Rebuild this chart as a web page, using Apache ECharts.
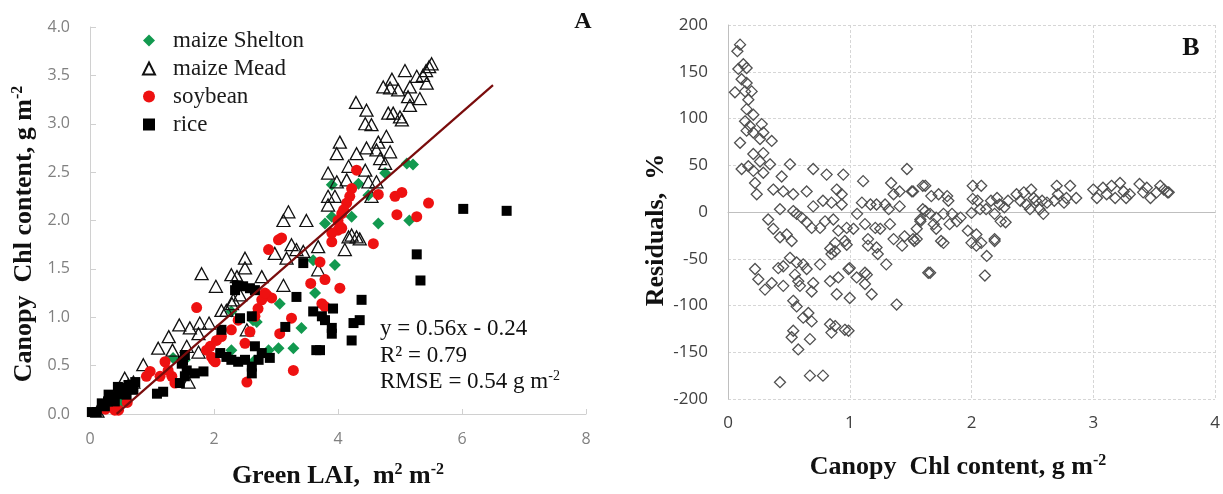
<!DOCTYPE html>
<html><head><meta charset="utf-8">
<script src="https://cdn.jsdelivr.net/npm/echarts@6/dist/echarts.min.js"></script>
<style>html,body{margin:0;padding:0;background:#fff}#c{width:1223px;height:494px}</style>
</head><body><div id="c"></div>
<script>
// ---------- Panel A data: [Green LAI, Canopy Chl] ----------
const sheltonPts = [[5.11,2.59],[5.21,2.58],[4.76,2.49],[3.90,2.37],[4.33,2.38],[4.49,2.26],[4.22,2.04],[3.90,2.04],[4.65,1.97],[5.15,2.0],[3.95,1.54],[3.63,1.25],[3.06,1.14],[3.41,0.89],[3.04,0.68],[2.88,0.66],[3.28,0.68],[2.63,0.97],[3.6,1.59],[1.34,0.58],[1.53,0.56],[2.28,1.06],[2.28,0.66],[2.65,0.55],[0.35,0.08],[0.5,0.12],[2.69,0.95],[3.79,1.97]];
const meadPts = [[5.08,3.55],[5.51,3.62],[5.47,3.59],[5.42,3.55],[5.37,3.50],[5.27,3.49],[4.87,3.46],[4.73,3.38],[4.84,3.37],[4.97,3.35],[5.16,3.38],[5.43,3.42],[5.32,3.26],[5.13,3.28],[5.16,3.19],[5.03,3.04],[5.0,3.07],[4.81,3.11],[4.89,3.11],[4.29,3.22],[4.46,3.14],[4.44,3.0],[4.54,2.99],[4.78,2.87],[4.65,2.81],[4.84,2.71],[4.62,2.73],[4.68,2.64],[4.76,2.59],[4.46,2.75],[4.30,2.69],[4.03,2.81],[3.98,2.69],[4.17,2.56],[4.44,2.52],[4.49,2.40],[3.84,2.49],[3.98,2.40],[4.14,2.42],[4.62,2.40],[3.84,2.25],[3.95,2.25],[3.84,2.16],[3.20,2.09],[3.12,2.0],[3.49,2.0],[4.54,2.25],[4.22,1.85],[4.30,1.83],[4.35,1.81],[4.17,1.83],[4.11,1.70],[1.80,1.45],[2.03,1.32],[2.28,1.44],[2.12,1.07],[2.29,1.14],[1.44,0.92],[1.61,0.89],[1.77,0.94],[1.92,0.94],[1.75,0.83],[1.27,0.80],[1.10,0.68],[1.33,0.66],[1.56,0.70],[1.75,0.64],[0.86,0.51],[0.56,0.37],[1.59,0.33],[2.50,1.61],[2.50,1.51],[2.37,1.42],[2.77,1.42],[3.12,1.33],[2.42,1.23],[2.31,1.18],[2.20,1.07],[2.53,0.87],[2.98,1.66],[3.17,1.61],[3.25,1.75],[3.33,1.70],[3.44,1.68],[3.68,1.49],[3.68,1.73],[0.12,0.03],[0.3,0.12],[0.45,0.22],[0.62,0.30],[0.7,0.33]];
const soyPts = [[4.30,2.52],[4.22,2.33],[4.19,2.25],[4.14,2.18],[4.09,2.11],[4.06,2.07],[4.0,2.0],[4.65,2.27],[4.92,2.25],[5.03,2.29],[5.46,2.18],[4.95,2.06],[5.27,2.04],[4.03,1.94],[3.04,1.80],[3.09,1.82],[2.88,1.70],[3.90,1.78],[4.0,1.90],[4.06,1.92],[4.57,1.76],[3.9,1.87],[3.71,1.57],[3.56,1.35],[3.79,1.39],[4.03,1.30],[2.85,1.23],[2.93,1.20],[2.77,1.18],[2.71,1.09],[2.66,1.01],[3.74,1.14],[3.79,1.11],[3.25,0.99],[3.06,0.83],[2.58,0.85],[2.5,0.73],[3.28,0.45],[2.53,0.33],[2.28,0.87],[2.39,0.97],[1.72,1.10],[0.97,0.44],[1.32,0.39],[1.13,0.39],[0.91,0.39],[1.21,0.54],[1.26,0.45],[1.94,0.70],[2.04,0.76],[2.12,0.80],[1.96,0.59],[1.88,0.66],[1.37,0.32],[0.46,0.04],[0.40,0.04],[2.02,0.54],[1.99,0.56],[0.25,0.05],[0.6,0.12],[2.82,1.25]];
const ricePts = [[6.02,2.12],[6.72,2.10],[5.27,1.65],[5.33,1.38],[3.44,1.56],[2.34,1.28],[2.47,1.32],[2.58,1.30],[2.66,1.28],[3.33,1.21],[4.38,1.18],[3.6,1.06],[3.74,1.01],[3.92,1.09],[3.79,0.97],[3.90,0.89],[3.90,0.83],[4.35,0.97],[4.25,0.94],[4.22,0.76],[3.71,0.66],[3.15,0.90],[2.42,0.99],[2.61,1.01],[2.66,0.70],[2.77,0.63],[2.90,0.58],[2.72,0.56],[2.61,0.49],[2.61,0.42],[2.50,0.56],[2.39,0.54],[2.28,0.56],[2.20,0.59],[1.53,0.61],[1.48,0.52],[1.56,0.45],[1.45,0.32],[1.53,0.39],[1.69,0.42],[1.83,0.44],[2.12,0.87],[2.1,0.63],[2.37,1.33],[1.08,0.21],[1.18,0.23],[0.73,0.33],[0.62,0.30],[0.51,0.27],[0.46,0.21],[0.35,0.18],[0.29,0.13],[0.19,0.11],[0.11,0.02],[0.03,0.02],[0.59,0.20],[0.70,0.25],[0.40,0.13],[0.24,0.08],[3.65,0.66],[1.5,0.55],[0.3,0.2],[0.45,0.28]];
const fitSlope = 0.56, fitIntercept = -0.24;
const fitX = [0.43, 6.5];
const ticksAx = [0, 2, 4, 6, 8];
const ticksAy = [0.0, 0.5, 1.0, 1.5, 2.0, 2.5, 3.0, 3.5, 4.0];
// ---------- Panel B data: [Canopy Chl, Residual %] ----------
const residPts = [[0.099,179],[0.077,172],[0.085,153],[0.126,158],[0.153,154],[0.057,128],[0.112,142],[0.153,138],[0.194,129],[0.167,120],[0.14,129],[0.153,110],[0.208,104],[0.14,97],[0.18,92],[0.153,87],[0.208,85],[0.277,94],[0.29,85],[0.263,78],[0.359,76],[0.099,74],[0.208,62],[0.29,63],[0.263,54],[0.345,51],[0.112,46],[0.167,49],[0.208,44],[0.29,42],[0.222,31],[0.236,19],[0.372,24],[0.454,22],[0.509,51],[0.441,38],[0.536,19],[0.427,3],[0.536,1],[0.646,22],[0.70,46],[0.81,40],[0.947,40],[0.893,24],[0.934,19],[0.78,12],[0.70,6],[0.85,10],[0.934,8],[1.11,33],[1.10,10],[1.17,8],[1.22,8],[1.29,8],[1.34,31],[1.36,19],[1.41,22],[1.47,46],[1.51,22],[1.60,28],[1.32,3],[1.41,6],
[0.33,-8],[0.372,-18],[0.427,-27],[0.482,-24],[0.523,-31],[0.564,-2],[0.605,-6],[0.646,-11],[0.687,-17],[0.756,-17],[0.797,-10],[0.865,-8],[0.906,-20],[0.975,-17],[1.03,-18],[1.06,-2],[1.125,-13],[1.21,-17],[1.25,-18],[1.33,-13],[1.15,-29],[1.22,-38],[1.36,-29],[1.45,-26],[1.55,-29],[1.58,-8],[1.62,1],[0.88,-33],[0.96,-31],[0.84,-39],
[0.222,-61],[0.249,-72],[0.304,-83],[0.359,-76],[0.413,-60],[0.454,-79],[0.454,-58],[0.509,-49],[0.55,-67],[0.564,-54],[0.618,-56],[0.577,-74],[0.591,-79],[0.646,-61],[0.70,-76],[0.687,-85],[0.756,-56],[0.536,-95],[0.564,-101],[0.618,-113],[0.66,-108],[0.687,-117],[0.536,-127],[0.523,-134],[0.577,-147],[0.673,-136],[0.838,-74],[0.893,-88],[0.906,-70],[0.85,-45],[0.879,-42],[0.975,-35],[1.0,-60],[0.99,-61],[1.057,-70],[1.0,-92],[1.125,-65],[1.14,-67],[1.125,-77],[1.18,-88],[1.15,-36],[1.23,-45],[1.30,-56],[1.385,-99],[1.43,-36],[1.53,-31],[1.645,-65],[0.838,-120],[0.88,-122],[0.96,-126],[0.99,-127],[0.85,-129],[0.673,-175],[0.78,-175],[0.427,-182],
[1.52,22],[1.62,28],[1.67,17],[1.73,19],[1.80,17],[1.81,12],[1.60,3],[1.66,-2],[1.58,-10],[1.71,-6],[1.77,-2],[1.84,-2],[1.91,-6],[1.55,-18],[1.52,-29],[1.71,-18],[1.75,-31],[1.69,-13],[1.82,-13],[1.88,-10],
[2.01,28],[2.08,28],[2.01,14],[2.05,12],[2.0,-1],[2.07,3],[2.12,3],[2.16,12],[2.21,15],[2.19,-2],[2.23,8],[2.27,5],[2.30,12],[2.24,-10],[2.28,-11],[1.97,-20],[2.04,-24],[2.08,-33],[2.19,-29],
[2.37,19],[2.43,21],[2.49,24],[2.51,15],[2.53,12],[2.58,12],[2.40,12],[2.45,8],[2.48,3],[2.56,3],[2.62,10],[2.59,-2],[2.70,28],[2.71,19],[2.78,15],[2.81,28],[2.86,15],[2.68,12],[2.76,10],
[3.0,24],[3.03,15],[3.08,26],[3.11,19],[3.15,28],[3.18,15],[3.22,31],[3.25,22],[3.3,19],[3.27,15],[3.38,30],[3.41,21],[3.44,26],[3.47,15],[3.52,21],[3.55,28],[3.58,24],[3.61,21],[3.62,21],
[1.66,-65],[2.11,-68],[2.125,-47],[2.04,-36],[2.0,-33],[2.19,-31],[1.77,-33]];
const ticksBx = [0, 1, 2, 3, 4];
const ticksBy = [-200, -150, -100, -50, 0, 50, 100, 150, 200];
const seriesNames = ['maize Shelton', 'maize Mead', 'soybean', 'rice'];

const fitLine = fitX.map(x => [x, fitSlope * x + fitIntercept]);
const serif = 'Liberation Serif';
const sans = 'Open Sans';
const chart = echarts.init(document.getElementById('c'), null, {renderer: 'canvas'});

function rt(size, weight) {
  return {
    t: {fontFamily: serif, fontSize: size, fontWeight: weight, fill: '#111', color: '#111', lineHeight: size + 2},
    s: {fontFamily: serif, fontSize: Math.round(size * 0.62), fontWeight: weight, fill: '#111', color: '#111', verticalAlign: 'top', lineHeight: size * 0.5}
  };
}
function gtext(x, y, text, size, weight, rot, align) {
  return {
    type: 'text', x: x, y: y, rotation: rot || 0, z: 100,
    style: {
      text: text, rich: rt(size, weight),
      font: weight + ' ' + size + 'px "' + serif + '"',
      fill: '#111',
      align: align || 'center', textAlign: align || 'center',
      verticalAlign: 'middle', textVerticalAlign: 'middle'
    }
  };
}

const axisLineA = {show: true, lineStyle: {color: '#d0d0d0', width: 1}};
const option = {
  animation: false,
  backgroundColor: '#fff',
  grid: [
    {left: 90, top: 27, width: 496, height: 387},
    {left: 728, top: 25, width: 487, height: 374}
  ],
  xAxis: [
    {gridIndex: 0, type: 'value', min: 0, max: 8, interval: 2,
     axisLine: axisLineA, axisTick: {show: true, inside: true, length: 5, lineStyle: {color: '#d0d0d0'}},
     splitLine: {show: false},
     axisLabel: {color: '#808080', fontFamily: sans, fontSize: 16, margin: 17,
       formatter: v => ticksAx.includes(v) ? String(v) : ''}},
    {gridIndex: 1, type: 'value', min: 0, max: 4, interval: 1,
     axisLine: {show: true, lineStyle: {color: '#bfbfbf', width: 1}}, axisTick: {show: false},
     splitLine: {show: true, lineStyle: {color: '#d6d6d6', type: [3, 2], width: 1}},
     axisLabel: {color: '#404040', fontFamily: sans, fontSize: 17, margin: 16,
       formatter: v => ticksBx.includes(v) ? String(v) : ''}}
  ],
  yAxis: [
    {gridIndex: 0, type: 'value', min: 0, max: 4, interval: 0.5,
     axisLine: axisLineA, axisTick: {show: true, inside: true, length: 6, lineStyle: {color: '#d0d0d0'}},
     splitLine: {show: false},
     axisLabel: {color: '#808080', fontFamily: sans, fontSize: 16, margin: 20,
       formatter: v => ticksAy.some(t => Math.abs(t - v) < 1e-9) ? v.toFixed(1) : ''}},
    {gridIndex: 1, type: 'value', min: -200, max: 200, interval: 50,
     axisLine: {show: true, lineStyle: {color: '#bfbfbf', width: 1}}, axisTick: {show: false},
     splitLine: {show: true, lineStyle: {color: '#d6d6d6', type: [3, 2], width: 1}},
     axisLabel: {color: '#404040', fontFamily: sans, fontSize: 17, margin: 20,
       formatter: v => ticksBy.includes(v) ? String(v) : ''}}
  ],
  legend: {
    orient: 'vertical', left: 137, top: 24, itemWidth: 12, itemHeight: 12, itemGap: 5,
    data: seriesNames,
    textStyle: {fontFamily: serif, fontSize: 23, color: '#1a1a1a', padding: [0, 0, 0, 13]}
  },
  series: [
    {name: seriesNames[0], type: 'scatter', xAxisIndex: 0, yAxisIndex: 0, data: sheltonPts,
     symbol: 'diamond', symbolSize: 12, itemStyle: {color: '#12994f', opacity: 1}, z: 2},
    {name: seriesNames[1], type: 'scatter', xAxisIndex: 0, yAxisIndex: 0, data: meadPts,
     symbol: 'triangle', symbolSize: [13, 12], itemStyle: {color: 'rgba(255,255,255,0)', borderColor: '#111', borderWidth: 1.3, opacity: 1}, z: 3},
    {name: seriesNames[2], type: 'scatter', xAxisIndex: 0, yAxisIndex: 0, data: soyPts,
     symbol: 'circle', symbolSize: 11, itemStyle: {color: '#ee1111', opacity: 1}, z: 4},
    {name: seriesNames[3], type: 'scatter', xAxisIndex: 0, yAxisIndex: 0, data: ricePts,
     symbol: 'rect', symbolSize: 10, itemStyle: {color: '#000', opacity: 1}, z: 5},
    {name: 'fit', type: 'line', xAxisIndex: 0, yAxisIndex: 0, data: fitLine, showSymbol: false, symbol: 'none',
     lineStyle: {color: '#7a0c0c', width: 2.2}, z: 6, silent: true},
    {name: 'residuals', type: 'scatter', xAxisIndex: 1, yAxisIndex: 1, data: residPts,
     symbol: 'diamond', symbolSize: 11, itemStyle: {color: 'rgba(255,255,255,0)', borderColor: '#505050', borderWidth: 1.3, opacity: 1}, z: 3}
  ],
  graphic: [
    gtext(24, 234, '{t|Canopy  Chl content, g m}{s|-2}', 26, 'bold', Math.PI / 2),
    gtext(338, 476, '{t|Green LAI,  m}{s|2}{t| m}{s|-2}', 26, 'bold', 0),
    gtext(656, 230, '{t|Residuals,  %}', 26, 'bold', Math.PI / 2),
    gtext(958, 467, '{t|Canopy  Chl content, g m}{s|-2}', 26, 'bold', 0),
    gtext(583, 22, '{t|A}', 24, 'bold', 0),
    gtext(1191, 48, '{t|B}', 26, 'bold', 0),
    gtext(380, 329, '{t|y = 0.56x - 0.24}', 23, 'normal', 0, 'left'),
    gtext(380, 356, '{t|R² = 0.79}', 23, 'normal', 0, 'left'),
    gtext(380, 382, '{t|RMSE = 0.54 g m}{s|-2}', 23, 'normal', 0, 'left')
  ]
};
chart.setOption(option);
</script></body></html>
